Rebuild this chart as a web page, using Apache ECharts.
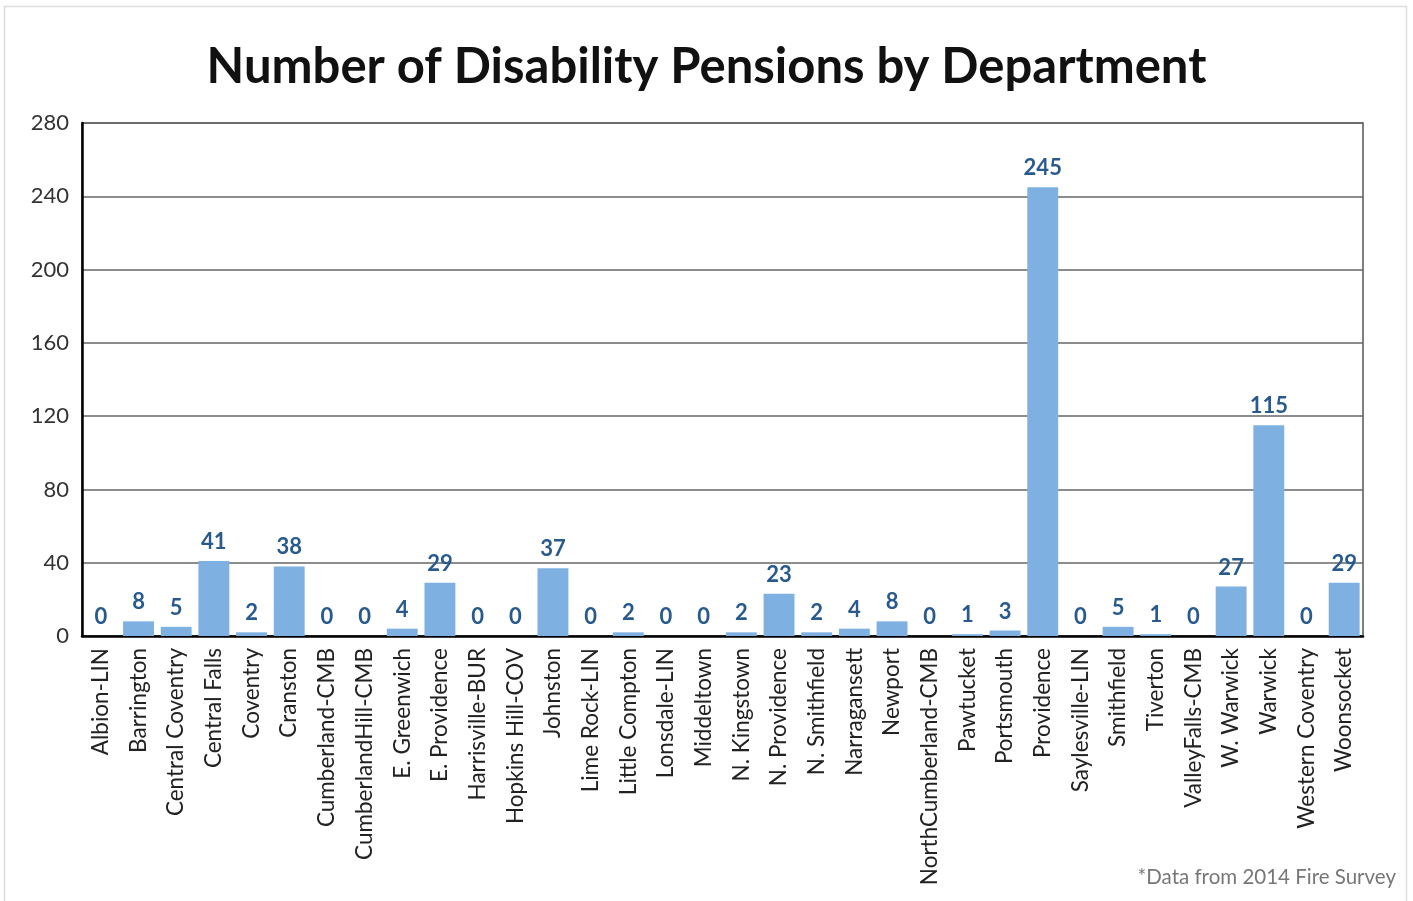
<!DOCTYPE html>
<html>
<head>
<meta charset="utf-8">
<title>Number of Disability Pensions by Department</title>
<script src="https://cdn.jsdelivr.net/npm/echarts@6/dist/echarts.min.js"></script>
<style>
  html, body { margin: 0; padding: 0; background: #ffffff; }
  #chart { width: 1413px; height: 901px; }
</style>
</head>
<body>
<div id="chart"></div>
<script>
// Fire departments (x axis categories)
const departments = [
  'Albion-LIN', 'Barrington', 'Central Coventry', 'Central Falls', 'Coventry',
  'Cranston', 'Cumberland-CMB', 'CumberlandHill-CMB', 'E. Greenwich', 'E. Providence',
  'Harrisville-BUR', 'Hopkins Hill-COV', 'Johnston', 'Lime Rock-LIN', 'Little Compton',
  'Lonsdale-LIN', 'Middeltown', 'N. Kingstown', 'N. Providence', 'N. Smithfield',
  'Narragansett', 'Newport', 'NorthCumberland-CMB', 'Pawtucket', 'Portsmouth',
  'Providence', 'Saylesville-LIN', 'Smithfield', 'Tiverton', 'ValleyFalls-CMB',
  'W. Warwick', 'Warwick', 'Western Coventry', 'Woonsocket'
];

// Disability pensions per department
const pensions = [
  0, 8, 5, 41, 2,
  38, 0, 0, 4, 29,
  0, 0, 37, 0, 2,
  0, 0, 2, 23, 2,
  4, 8, 0, 1, 3,
  245, 0, 5, 1, 0,
  27, 115, 0, 29
];

// Value axis ticks
const yTicks = [0, 40, 80, 120, 160, 200, 240, 280];

const FONT = 'Lato, "Open Sans", sans-serif';

const chart = echarts.init(document.getElementById('chart'), null, { renderer: 'canvas' });

chart.setOption({
  backgroundColor: '#ffffff',
  animation: false,
  title: {
    text: 'Number of Disability Pensions by Department',
    left: 'center',
    top: 38,
    textStyle: {
      fontFamily: FONT,
      fontSize: 49,
      fontWeight: 'bold',
      color: '#111111'
    }
  },
  graphic: [
    {
      type: 'rect',
      shape: { x: 4.5, y: 6.5, width: 1402, height: 900 },
      style: { fill: 'none', stroke: '#dcdcdc', lineWidth: 1.5 },
      silent: true
    },
    {
      type: 'text',
      right: 17,
      top: 867,
      style: {
        text: '*Data from 2014 Fire Survey',
        fontFamily: FONT,
        fontSize: 20.5,
        fill: '#777777'
      }
    }
  ],
  grid: {
    left: 82,
    right: 50,
    top: 123,
    bottom: 265,
    show: true,
    borderColor: '#555555',
    borderWidth: 1.5,
    containLabel: false
  },
  xAxis: {
    type: 'category',
    data: departments,
    axisLine: { show: true, lineStyle: { color: '#000000', width: 2.5 } },
    axisTick: { show: false },
    axisLabel: {
      interval: 0,
      rotate: 90,
      margin: 12,
      fontFamily: FONT,
      fontSize: 22.5,
      color: '#222222'
    }
  },
  yAxis: {
    type: 'value',
    min: 0,
    max: 280,
    interval: 40,
    axisLine: { show: true, lineStyle: { color: '#000000', width: 2.5 } },
    axisTick: { show: false },
    axisLabel: {
      margin: 13,
      fontFamily: FONT,
      fontSize: 22,
      color: '#333333',
      formatter: function (v) { return yTicks.indexOf(v) >= 0 ? String(v) : ''; }
    },
    splitLine: { show: true, lineStyle: { color: '#666666', width: 1.5 } }
  },
  series: [
    {
      type: 'bar',
      data: pensions,
      barCategoryGap: '18%',
      itemStyle: { color: '#7eb0e2' },
      label: {
        show: true,
        position: 'top',
        distance: 8,
        fontFamily: FONT,
        fontSize: 22,
        fontWeight: 'bold',
        color: '#285a8e'
      }
    }
  ]
});
</script>
</body>
</html>
